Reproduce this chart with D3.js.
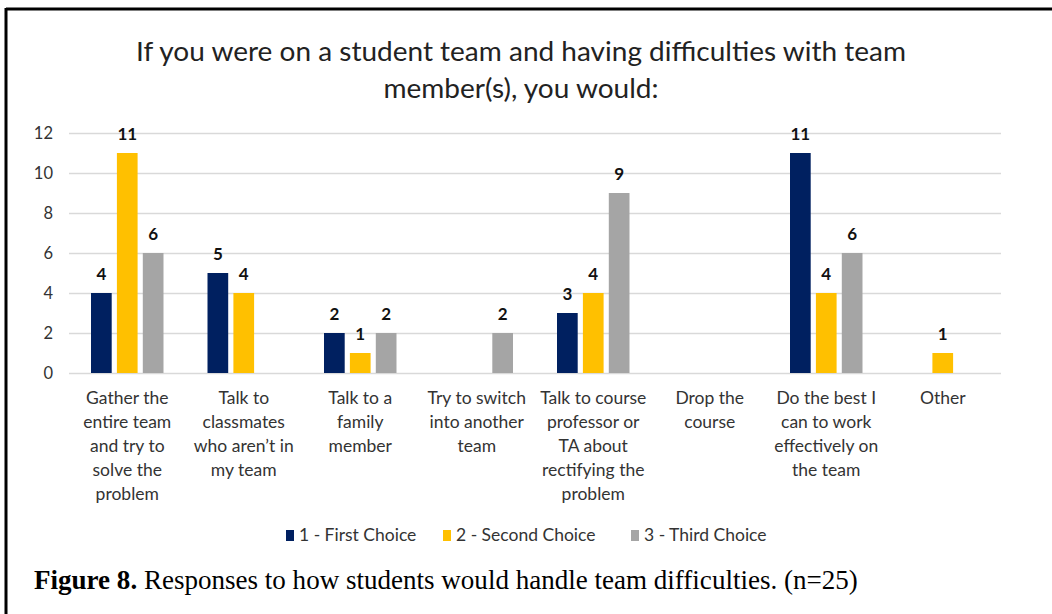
<!DOCTYPE html>
<html><head><meta charset="utf-8">
<script src="https://cdn.jsdelivr.net/npm/d3@7"></script>
<style>html,body{margin:0;padding:0;background:#fff;}svg{display:block;}</style>
</head><body>
<svg id="chart" width="1052" height="614"></svg>
<script>
const categories = [
  "Gather the\nentire team\nand try to\nsolve the\nproblem",
  "Talk to\nclassmates\nwho aren\u2019t in\nmy team",
  "Talk to a\nfamily\nmember",
  "Try to switch\ninto another\nteam",
  "Talk to course\nprofessor or\nTA about\nrectifying the\nproblem",
  "Drop the\ncourse",
  "Do the best I\ncan to work\neffectively on\nthe team",
  "Other"
];
const seriesNames = ["1 - First Choice", "2 - Second Choice", "3 - Third Choice"];
const firstChoice  = [4, 5, 2, 0, 3, 0, 11, 0];
const secondChoice = [11, 4, 1, 0, 4, 0, 4, 1];
const thirdChoice  = [6, 0, 2, 2, 9, 0, 6, 0];
const yTicks = [0, 2, 4, 6, 8, 10, 12];
const colors = ["#002060", "#FFC000", "#A5A5A5"];
const titleLines = ["If you were on a student team and having difficulties with team", "member(s), you would:"];

const series = [firstChoice, secondChoice, thirdChoice];
const svg = d3.select("#chart");
const font = "Lato, 'Open Sans', sans-serif";

// frame
svg.append("line").attr("x1", 6).attr("x2", 1052).attr("y1", 9).attr("y2", 9).attr("stroke", "#000").attr("stroke-width", 3);
svg.append("line").attr("x1", 6).attr("x2", 6).attr("y1", 8).attr("y2", 614).attr("stroke", "#000").attr("stroke-width", 3);

// squeeze text horizontally to a target width, keeping its height
function squeeze(sel, x0, y0, w, anchor) {
  const l = sel.node().getComputedTextLength();
  const s = w / l;
  sel.attr("x", 0).attr("y", 0).attr("transform", `translate(${x0},${y0}) scale(${s},1)`);
}

// title
const titleSize = 27;
const t1 = svg.append("text").attr("text-anchor", "middle")
  .attr("font-family", font).attr("font-size", titleSize).attr("fill", "#222").text(titleLines[0]);
squeeze(t1, 521, 61, 770);
const s1 = 770 / t1.node().getComputedTextLength();
svg.append("text").attr("text-anchor", "middle").attr("transform", `translate(521,98) scale(${s1},1)`)
  .attr("font-family", font).attr("font-size", titleSize).attr("fill", "#222").text(titleLines[1]);

const x = d3.scaleBand().domain(d3.range(categories.length)).range([69, 1001]).paddingInner(0).paddingOuter(0);
const y = d3.scaleLinear().domain([0, 12]).range([373, 133]);
const barW = 20.7, gap = 5.2;

// grid
const yAxis = d3.axisLeft(y).tickValues(yTicks).tickSize(-(1001 - 69)).tickPadding(16);
const ga = svg.append("g").attr("transform", "translate(69,0)").call(yAxis);
ga.select(".domain").remove();
ga.selectAll(".tick line").attr("stroke", "#D9D9D9").attr("stroke-width", 1.5);
ga.selectAll(".tick text").attr("font-family", font).attr("font-size", 16.5).attr("fill", "#333");

// bars
series.forEach((vals, si) => {
  const g = svg.append("g");
  vals.forEach((v, ci) => {
    if (v === 0) return;
    const cx = x(ci) + x.bandwidth() / 2 + (si - 1) * (barW + gap);
    g.append("rect").attr("x", cx - barW / 2).attr("y", y(v)).attr("width", barW)
      .attr("height", y(0) - y(v)).attr("fill", colors[si]);
    g.append("text").attr("x", cx).attr("y", y(v) - 13).attr("text-anchor", "middle")
      .attr("font-family", font).attr("font-weight", "bold").attr("font-size", 17)
      .attr("fill", "#111").text(v);
  });
});

// category labels
categories.forEach((c, ci) => {
  const t = svg.append("text").attr("text-anchor", "middle").attr("font-family", font)
    .attr("font-size", 17.5).attr("fill", "#333");
  c.split("\n").forEach((line, li) => {
    t.append("tspan").attr("x", x(ci) + x.bandwidth() / 2).attr("y", 404 + li * 24).text(line);
  });
});

// legend
const legX = [286, 443, 631];
seriesNames.forEach((n, i) => {
  svg.append("rect").attr("x", legX[i]).attr("y", 530).attr("width", 8).attr("height", 11).attr("fill", colors[i]);
  svg.append("text").attr("x", legX[i] + 13).attr("y", 541).attr("font-family", font)
    .attr("font-size", 17.5).attr("fill", "#333").text(n);
});

// caption
const cap = svg.append("text").attr("font-family", "'Liberation Serif', serif")
  .attr("font-size", 27).attr("fill", "#000");
cap.append("tspan").attr("font-weight", "bold").text("Figure 8.");
cap.append("tspan").text(" Responses to how students would handle team difficulties. (n=25)");
squeeze(cap, 34, 589, 824);
</script>
</body></html>
